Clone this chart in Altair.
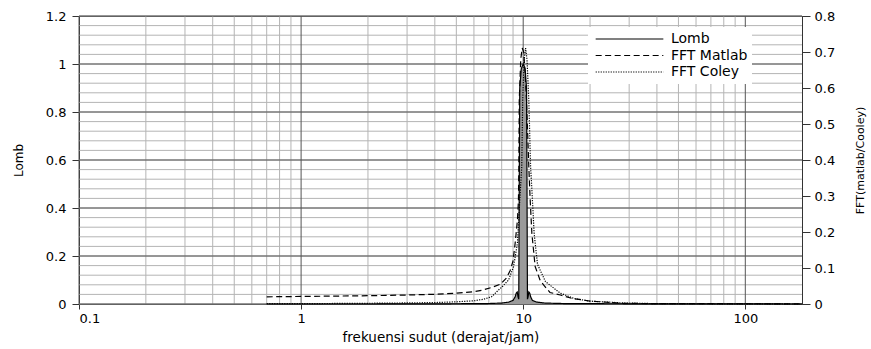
import altair as alt
import pandas as pd

# Lomb periodogram, read on the left axis
lomb_f = [0.7, 2, 5, 7, 8, 8.6, 9.0, 9.2, 9.3, 9.4, 9.48, 9.55, 9.6, 9.65, 9.8, 10.0,
          10.2, 10.35, 10.4, 10.45, 10.52, 10.6, 10.7, 10.8, 11.0, 11.5, 12.5, 15, 25, 180]
lomb_p = [0.0, 0.0, 0.001, 0.002, 0.004, 0.008, 0.015, 0.03, 0.045, 0.05, 0.03, 0.02, 0.5, 0.9, 0.98, 1.0,
          0.98, 0.9, 0.5, 0.02, 0.03, 0.05, 0.045, 0.03, 0.015, 0.008, 0.004, 0.002, 0.001, 0.0]

# FFT spectra, read on the right axis
matlab_f = [0.7, 1, 2, 3, 4, 5, 6, 6.6, 7.2, 7.9, 8.4, 8.75, 9.0, 9.2, 9.42, 9.52, 9.56, 9.6,
            9.75, 9.9, 10.05, 10.2, 10.35, 10.6, 10.75, 10.94, 11.32, 11.9, 12.35, 13.2, 14.7,
            16.5, 20, 28, 40, 180]
matlab_p = [0.020, 0.021, 0.023, 0.025, 0.027, 0.030, 0.034, 0.039, 0.046, 0.055, 0.072, 0.094,
            0.12, 0.169, 0.233, 0.289, 0.381, 0.567, 0.68, 0.711, 0.70, 0.64, 0.567, 0.381, 0.289,
            0.196, 0.104, 0.067, 0.053, 0.032, 0.025, 0.016, 0.008, 0.002, 0.001, 0.0005]

coley_f = [0.7, 1, 2, 3, 4, 5, 6, 6.6, 7.2, 7.6, 8.1, 8.6, 9.05, 9.42, 9.65, 9.85, 9.95, 10.1,
           10.25, 10.4, 10.6, 10.8, 11.0, 11.2, 11.6, 12.6, 14.7, 17, 20, 28, 40, 180]
coley_p = [0.001, 0.001, 0.002, 0.003, 0.004, 0.006, 0.009, 0.013, 0.02, 0.034, 0.05, 0.067,
           0.104, 0.169, 0.289, 0.381, 0.567, 0.68, 0.711, 0.68, 0.567, 0.381, 0.289, 0.196,
           0.11, 0.062, 0.03, 0.015, 0.008, 0.003, 0.001, 0.0]

series_names = ["Lomb", "FFT Matlab", "FFT Coley"]

# axis ticks and grid positions
x_ticks = [0.1, 1, 10, 100]
x_minor = [0.2, 0.3, 0.4, 0.5, 0.6, 0.7, 0.8, 0.9,
           2, 3, 4, 5, 6, 7, 8, 9,
           20, 30, 40, 50, 60, 70, 80, 90]
left_ticks = [0, 0.2, 0.4, 0.6, 0.8, 1.0, 1.2]
right_ticks = [0, 0.1, 0.2, 0.3, 0.4, 0.5, 0.6, 0.7, 0.8]
y_minor = [round(i * 0.04, 2) for i in range(31)]

FONT = "DejaVu Sans"
W, H = 723, 288

lomb_df = pd.DataFrame({"f": lomb_f, "p": lomb_p, "series": "Lomb"})
fft_df = pd.concat([
    pd.DataFrame({"f": matlab_f, "p": matlab_p, "series": "FFT Matlab"}),
    pd.DataFrame({"f": coley_f, "p": coley_p, "series": "FFT Coley"}),
])

xscale = alt.Scale(type="log", domain=[0.1, 180], nice=False)
left_scale = alt.Scale(domain=[0, 1.2], nice=False, zero=True)
right_scale = alt.Scale(domain=[0, 0.8], nice=False, zero=True)

x_axis = alt.Axis(
    values=x_ticks, format="~g", grid=False, title="frekuensi sudut (derajat/jam)",
    tickSize=5, labelPadding=3, labelFont=FONT, labelFontSize=13, labelColor="black",
    titleFont=FONT, titleFontSize=13.5, titleFontWeight="normal", titleColor="black",
    titleX=W / 2, titleY=33, titleBaseline="middle", domainColor="#333", tickColor="#333",
)
X = alt.X("f:Q", scale=xscale, axis=x_axis)

left_axis = alt.Axis(
    values=left_ticks, format="~g", grid=False, title="Lomb", orient="left",
    tickSize=7, labelPadding=6, labelFont=FONT, labelFontSize=13, labelColor="black",
    titleFont=FONT, titleFontSize=12, titleFontWeight="normal", titleColor="black",
    titleAngle=270, titleX=-61, titleY=H / 2, titleBaseline="middle",
    domainColor="#333", tickColor="#333",
)

right_axis = alt.Axis(
    values=right_ticks, format="~g", grid=False, title="FFT(matlab/Cooley)", orient="right",
    tickSize=8, labelPadding=4, labelFont=FONT, labelFontSize=13, labelColor="black",
    titleFont=FONT, titleFontSize=11, titleFontWeight="normal", titleColor="black",
    titleAngle=270, titleX=58, titleY=H / 2, titleBaseline="middle",
    domainColor="#333", tickColor="#333",
)

dash = alt.StrokeDash(
    "series:N",
    scale=alt.Scale(domain=series_names, range=[[1, 0], [6, 3.5], [1.2, 1.3]]),
    legend=alt.Legend(
        title=None, orient="none", legendX=509, legendY=11,
        fillColor="white", padding=4, symbolType="stroke", symbolSize=4580,
        symbolOffset=3, symbolStrokeWidth=1.2, symbolStrokeColor="black", labelFont=FONT,
        labelFontSize=14, labelColor="black", labelOffset=7, rowPadding=0.5,
        clipHeight=16,
    ),
)

# grid: light lines at minor steps, darker ones at decades / major ticks
vgrid_minor = alt.Chart(pd.DataFrame({"f": x_minor})).mark_rule(
    color="#b4b4b4", strokeWidth=1).encode(x=X)
vgrid_major = alt.Chart(pd.DataFrame({"f": x_ticks})).mark_rule(
    color="#555555", strokeWidth=1).encode(x=X)
hgrid_minor = alt.Chart(pd.DataFrame({"v": y_minor})).mark_rule(
    color="#b4b4b4", strokeWidth=1).encode(y=alt.Y("v:Q", scale=left_scale, axis=None))
hgrid_major = alt.Chart(pd.DataFrame({"v": left_ticks})).mark_rule(
    color="#555555", strokeWidth=1).encode(y=alt.Y("v:Q", scale=left_scale, axis=None))

lomb_fill = alt.Chart(lomb_df).mark_area(color="#9a9a9a", opacity=1).encode(
    x=X,
    y=alt.Y("p:Q", scale=left_scale, axis=None),
)

lomb_line = alt.Chart(lomb_df).mark_line(color="black", strokeWidth=1.2).encode(
    x=X,
    y=alt.Y("p:Q", scale=left_scale, axis=left_axis),
    strokeDash=dash,
)

fft_lines = alt.Chart(fft_df).mark_line(color="black", strokeWidth=1.2).encode(
    x=X,
    y=alt.Y("p:Q", scale=right_scale, axis=right_axis),
    strokeDash=dash,
)

chart = alt.layer(
    vgrid_minor, hgrid_minor, vgrid_major, hgrid_major, lomb_fill, lomb_line, fft_lines
).resolve_scale(y="independent").properties(
    width=W, height=H,
    padding={"left": 79, "top": 16, "right": 69, "bottom": 45},
    autosize=alt.AutoSizeParams(type="none"),
    background="white",
).configure_view(stroke="#333", strokeWidth=1)

chart.save("out.html", embed_options={"renderer": "svg", "actions": False})
